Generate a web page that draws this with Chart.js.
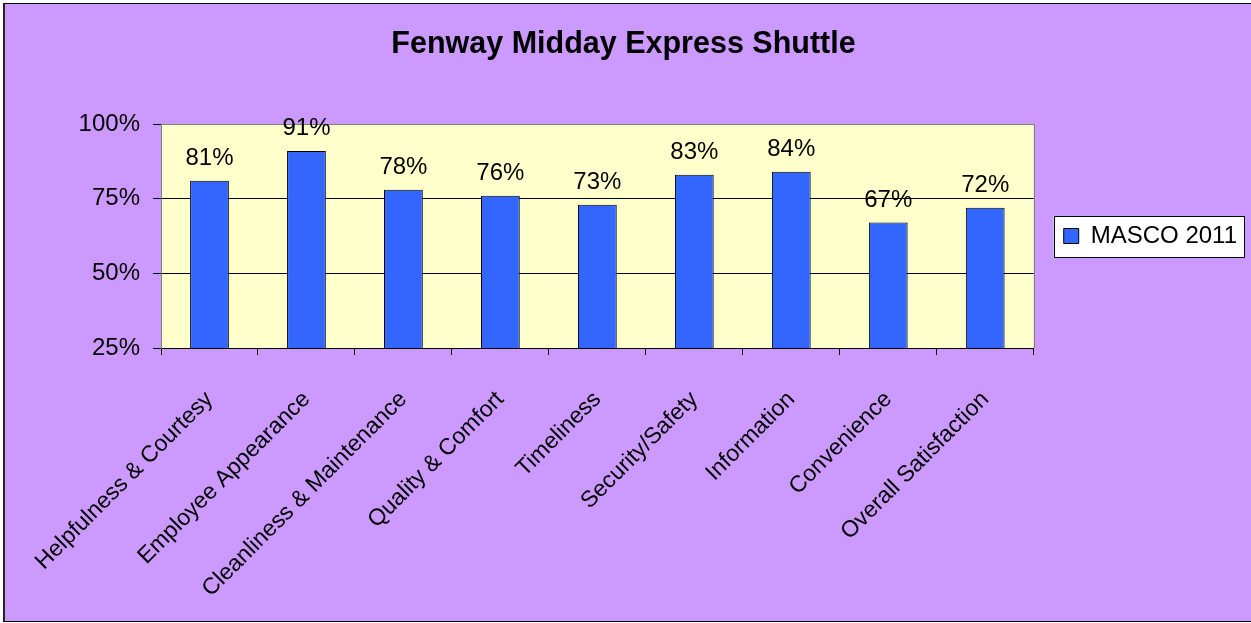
<!DOCTYPE html>
<html>
<head>
<meta charset="utf-8">
<script src="https://cdn.jsdelivr.net/npm/chart.js@4/dist/chart.umd.min.js"></script>
<style>
  html, body { margin: 0; padding: 0; background: #ffffff; }
  canvas { display: block; }
</style>
</head>
<body>
<canvas id="c" width="1251" height="623"></canvas>
<script>
const categories = [
  "Helpfulness & Courtesy",
  "Employee Appearance",
  "Cleanliness & Maintenance",
  "Quality & Comfort",
  "Timeliness",
  "Security/Safety",
  "Information",
  "Convenience",
  "Overall Satisfaction"
];
const seriesName = "MASCO 2011";
const values = [81, 91, 78, 76, 73, 83, 84, 67, 72];
const yTicks = [25, 50, 75, 100];
const chartTitle = "Fenway Midday Express Shuttle";

const FONT = "'Liberation Sans', Arial, Helvetica, sans-serif";

const backgroundPlugin = {
  id: 'bg',
  beforeDraw(chart) {
    const ctx = chart.ctx;
    const W = chart.width, H = chart.height;
    ctx.save();
    ctx.fillStyle = '#ffffff';
    ctx.fillRect(0, 0, W, H);
    ctx.fillStyle = '#CC99FF';
    ctx.fillRect(3, 3, W - 3, 619);
    ctx.fillStyle = '#000000';
    ctx.fillRect(3, 3, W - 3, 1);
    ctx.fillStyle = '#222222';
    ctx.fillRect(3, 3, 2, 619);
    ctx.fillStyle = '#000000';
    ctx.fillRect(3, 621, W - 3, 1);
    const a = chart.chartArea;
    ctx.fillStyle = '#FFFFCC';
    ctx.fillRect(a.left, a.top, a.right - a.left, a.bottom - a.top);
    // legend frame
    const lg = chart.legend;
    if (lg && lg.legendHitBoxes && lg.legendHitBoxes.length) {
      const hb = lg.legendHitBoxes[0];
      const cy = hb.top + hb.height / 2;
      const x0 = hb.left - 10;
      const x1 = lg.right - 3;
      ctx.fillStyle = '#ffffff';
      ctx.fillRect(x0, cy - 20, x1 - x0, 41);
      ctx.strokeStyle = '#000000';
      ctx.lineWidth = 1;
      ctx.strokeRect(Math.round(x0) + 0.5, Math.round(cy - 20) + 0.5, Math.round(x1 - x0), 41);
    }
    ctx.restore();
  },
  beforeDatasetsDraw(chart) {
    const ctx = chart.ctx;
    const a = chart.chartArea;
    ctx.save();
    ctx.strokeStyle = '#808080';
    ctx.lineWidth = 1;
    ctx.beginPath();
    ctx.moveTo(a.left, Math.round(a.top) + 0.5);
    ctx.lineTo(Math.round(a.right) + 0.5, Math.round(a.top) + 0.5);
    ctx.lineTo(Math.round(a.right) + 0.5, a.bottom);
    ctx.stroke();
    ctx.restore();
  },
  afterDatasetsDraw(chart) {
    const ctx = chart.ctx;
    const meta = chart.getDatasetMeta(0);
    ctx.save();
    ctx.fillStyle = '#000000';
    ctx.font = '24px ' + FONT;
    ctx.textAlign = 'center';
    ctx.textBaseline = 'alphabetic';
    meta.data.forEach((bar, i) => {
      ctx.fillText(values[i] + '%', bar.x, bar.y - 16);
    });
    ctx.restore();
  }
};

new Chart(document.getElementById('c'), {
  type: 'bar',
  data: {
    labels: categories,
    datasets: [{
      label: seriesName,
      data: values,
      backgroundColor: '#3366FF',
      borderColor: '#000000',
      borderWidth: 1,
      categoryPercentage: 0.8,
      barPercentage: 0.5
    }]
  },
  options: {
    responsive: false,
    animation: false,
    devicePixelRatio: 1,
    layout: { padding: { left: 0, right: 4, top: 0, bottom: 0 } },
    plugins: {
      title: {
        display: true,
        text: chartTitle,
        color: '#000000',
        font: { family: FONT, size: 30.5, weight: 'bold', lineHeight: 1.2 },
        padding: { top: 26, bottom: 61.4 }
      },
      legend: {
        display: true,
        position: 'right',
        fullSize: false,
        labels: {
          boxWidth: 15,
          boxHeight: 15,
          padding: 30,
          color: '#000000',
          font: { family: FONT, size: 24 }
        }
      },
      tooltip: { enabled: false }
    },
    scales: {
      x: {
        offset: true,
        grid: {
          display: true,
          offset: true,
          drawOnChartArea: false,
          drawTicks: true,
          tickLength: 7,
          color: '#000000',
          tickColor: '#000000'
        },
        border: { display: true, color: '#000000', width: 1 },
        ticks: {
          autoSkip: false,
          maxRotation: 45,
          minRotation: 45,
          padding: 31,
          color: '#000000',
          font: { family: FONT, size: 23 }
        },
        afterFit(scale) {
          scale.height = 275;
          scale.paddingLeft = 0;
          scale.paddingRight = 0;
        }
      },
      y: {
        min: 25,
        max: 100,
        afterBuildTicks(scale) { scale.ticks = yTicks.map(v => ({ value: v })); },
        grid: {
          display: true,
          drawTicks: true,
          tickLength: 8,
          color: (c) => (c.tick && c.tick.value === 100) ? '#808080' : '#000000',
          tickColor: '#000000'
        },
        border: { display: true, color: '#808080', width: 1 },
        ticks: {
          padding: 13,
          color: '#000000',
          font: { family: FONT, size: 24 },
          callback: (v) => v + '%'
        },
        afterFit(scale) { scale.width = 161; }
      }
    }
  },
  plugins: [backgroundPlugin]
});
</script>
</body>
</html>
